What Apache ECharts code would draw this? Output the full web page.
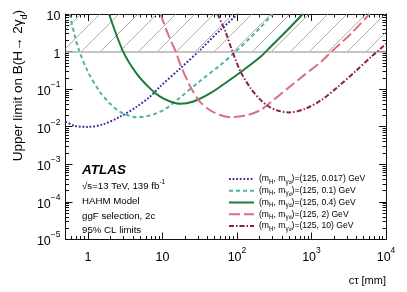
<!DOCTYPE html>
<html><head><meta charset="utf-8">
<script src="https://cdn.jsdelivr.net/npm/echarts@6/dist/echarts.min.js"></script>
<style>html,body{margin:0;padding:0;background:#fff}#c{width:407px;height:292px}</style>
</head><body><div id="c"></div>
<script>
// ---- data ----
const ct_017 = [0.5, 0.66, 1.0, 1.6, 2.7, 4.5, 6.8, 9.3, 17.4, 32, 60, 103];
const lim_017 = [0.0138, 0.0106, 0.0099, 0.0116, 0.0185, 0.034, 0.063, 0.117, 0.36, 1.1, 3.8, 10];

const ct_01 = [0.57, 0.66, 0.77, 1.0, 1.44, 1.96, 2.8, 4.5, 6.5, 8.4, 11, 15.6, 32, 60, 91, 153, 209, 300];
const lim_01 = [10, 2.8, 1.0, 0.29, 0.086, 0.042, 0.024, 0.018, 0.0195, 0.023, 0.03, 0.051, 0.165, 0.44, 0.91, 2.4, 4.5, 10];

const ct_04 = [1.92, 2.97, 4.5, 6.8, 9.3, 12.7, 17.4, 26, 44, 74, 124, 209, 285, 480, 764];
const lim_04 = [10, 1.0, 0.26, 0.105, 0.063, 0.047, 0.041, 0.047, 0.078, 0.158, 0.33, 0.74, 1.36, 3.8, 10];

const ct_2 = [9.4, 12.7, 15.1, 17.4, 23.7, 32, 49, 82, 138, 209, 285, 480, 804, 1350, 1860, 3450, 6000];
const lim_2 = [10, 2.1, 1.0, 0.45, 0.117, 0.046, 0.024, 0.018, 0.0205, 0.028, 0.045, 0.105, 0.24, 0.54, 1.0, 3.1, 10];

const ct_10 = [55, 70, 87, 112, 153, 209, 270, 350, 500, 804, 1350, 2280, 3830, 6400, 10000];
const lim_10 = [10, 3.4, 1.0, 0.29, 0.105, 0.051, 0.034, 0.027, 0.024, 0.0296, 0.051, 0.117, 0.29, 0.74, 1.6];

const seriesNames = ['0.017', '0.1', '0.4', '2', '10'];
const xTickValues = [1, 10, 100, 1000, 10000];
const yTickValues = [1e-5, 1e-4, 1e-3, 1e-2, 1e-1, 1, 10];

const xMin = 0.5, xMax = 1e4, yMin = 1e-5, yMax = 10;
const bandLow = 1, bandHigh = 10;

// ---- styling ----
const FONT = '"Liberation Sans", Arial, Helvetica, sans-serif';
const colors = ['#3b2f9f', '#4fb4a4', '#1f7a38', '#d8717f', '#8b1e52'];
const dashes = [[1.8, 1.8], [4, 3], 'solid', [11, 4], [5, 2, 1.5, 2]];

function zip(a, b) { return a.map((v, i) => [v, b[i]]); }
const dataSets = [zip(ct_017, lim_017), zip(ct_01, lim_01), zip(ct_04, lim_04), zip(ct_2, lim_2), zip(ct_10, lim_10)];

function expLabel(v) {
  const e = Math.log10(v);
  const r = Math.round(e);
  if (Math.abs(e - r) > 0.01) return '';
  if (r === 0) return '{b|1}';
  if (r === 1) return '{b|10}';
  return '{b|10}{sup|' + (r < 0 ? '\u2212' + (-r) : r) + '}';
}
const labelRich = {
  b: { fontSize: 12.5, fontFamily: FONT, color: '#000', lineHeight: 18, verticalAlign: 'bottom' },
  sup: { fontSize: 8.5, fontFamily: FONT, color: '#000', lineHeight: 10, verticalAlign: 'top' }
};

// minor tick values (2..9 x 10^k)
const yMinor = [], xMinor = [];
for (let k = -5; k <= 0; k++) for (let m = 2; m <= 9; m++) { const v = m * Math.pow(10, k); if (v > yMin && v < yMax) yMinor.push(v); }
for (let k = -1; k <= 3; k++) for (let m = 2; m <= 9; m++) { const v = m * Math.pow(10, k); if (v > xMin && v < xMax) xMinor.push(v); }

// hatch pattern
const pc = document.createElement('canvas');
const P = 19; pc.width = P; pc.height = P;
const g = pc.getContext('2d');
g.strokeStyle = '#9c9c9c'; g.lineWidth = 0.8;
g.beginPath();
g.moveTo(0, P); g.lineTo(P, 0);
g.moveTo(-2, 2); g.lineTo(2, -2);
g.moveTo(P - 2, P + 2); g.lineTo(P + 2, P - 2);
g.stroke();

const chart = echarts.init(document.getElementById('c'), null, { renderer: 'canvas' });

const GRID = { left: 65.5, right: 21, top: 14, bottom: 52.5, containLabel: false };

function mkAxis(gridIndex, isX, pos, opts) {
  return Object.assign({
    type: 'log', logBase: 10, gridIndex: gridIndex, position: pos,
    min: isX ? xMin : yMin, max: isX ? xMax : yMax, splitNumber: isX ? 5 : 6,
    axisLine: { show: true, lineStyle: { color: '#111', width: 1 } },
    axisTick: { show: true, inside: true, length: 7, lineStyle: { color: '#111', width: 1 } },
    axisLabel: { show: false },
    splitLine: { show: false }
  }, opts || {});
}
function minorAxis(gridIndex, isX, pos) {
  return mkAxis(gridIndex, isX, pos, {
    axisLine: { show: false },
    axisTick: { show: true, inside: true, length: 3.5, customValues: isX ? xMinor : yMinor, lineStyle: { color: '#111', width: 1 } }
  });
}

const series = [];
series.push({
  type: 'line', name: 'band', data: [], z: 1, silent: true,
  markArea: {
    silent: true,
    itemStyle: { color: { image: pc, repeat: 'repeat' } },
    data: [[{ coord: [xMin, bandLow] }, { coord: [xMax, bandHigh] }]]
  },
  markLine: {
    silent: true, symbol: ['none', 'none'], label: { show: false },
    lineStyle: { color: '#b0b0b0', width: 1.5, type: 'solid' },
    data: [{ yAxis: bandLow }]
  }
});
seriesNames.forEach((n, i) => {
  series.push({
    type: 'line', name: n, data: dataSets[i], showSymbol: false, symbol: 'none',
    smooth: 0.3, z: 3 + i, clip: true,
    lineStyle: { color: colors[i], width: 2, type: dashes[i] },
    itemStyle: { color: colors[i] }
  });
});

const legendRich = {
  s: { fontSize: 6.3, fontFamily: FONT, color: '#000', verticalAlign: 'bottom', lineHeight: 11.8 },
  ss: { fontSize: 5.2, fontFamily: FONT, color: '#000', verticalAlign: 'bottom', lineHeight: 11.8 }
};

const option = {
  animation: false,
  backgroundColor: '#fff',
  grid: [GRID, Object.assign({}, GRID)],
  xAxis: [
    mkAxis(0, true, 'bottom', { axisLabel: { show: true, margin: 7, formatter: expLabel, rich: labelRich, showMinLabel: false } }),
    mkAxis(0, true, 'top'),
    minorAxis(1, true, 'bottom'),
    minorAxis(1, true, 'top')
  ],
  yAxis: [
    mkAxis(0, false, 'left', { axisLabel: { show: true, margin: 5, formatter: expLabel, rich: labelRich } }),
    mkAxis(0, false, 'right'),
    minorAxis(1, false, 'left'),
    minorAxis(1, false, 'right')
  ],
  legend: {
    orient: 'vertical', left: 228, top: 173,
    data: seriesNames,
    itemWidth: 25, itemHeight: 10, itemGap: 0,
    padding: 0,
    selectedMode: false,
    itemStyle: { opacity: 0 },
    formatter: function (n) { return '(m{s|H}, m{s|\u03b3}{ss|d})=(125, ' + n + ') GeV'; },
    textStyle: { fontSize: 8.6, fontFamily: FONT, color: '#000', lineHeight: 11.8, rich: legendRich }
  },
  graphic: [
    { type: 'text', x: 18, y: 10, rotation: Math.PI / 2,
      style: { text: 'Upper limit on B(H\u2192 2\u03b3{sub|d})', fill: '#000', font: '13.5px ' + FONT,
        align: 'right', verticalAlign: 'middle',
        rich: { sub: { fontSize: 9, fontFamily: FONT, verticalAlign: 'bottom', lineHeight: 22 } } } },
    { type: 'text', x: 386, y: 281,
      style: { text: 'c\u03c4 [mm]', fill: '#000', font: '11px ' + FONT, align: 'right', verticalAlign: 'middle' } },
    { type: 'text', x: 82, y: 170.5,
      style: { text: 'ATLAS', fill: '#000', font: 'italic bold 13.5px ' + FONT, align: 'left', verticalAlign: 'middle' } },
    { type: 'text', x: 82, y: 186,
      style: { text: '\u221as=13 TeV, 139 fb{sup|-1}', fill: '#000', font: '9.7px ' + FONT, align: 'left', verticalAlign: 'middle',
        rich: { sup: { fontSize: 6.5, fontFamily: FONT, verticalAlign: 'top', lineHeight: 14 } } } },
    { type: 'text', x: 82, y: 201.5,
      style: { text: 'HAHM Model', fill: '#000', font: '9.7px ' + FONT, align: 'left', verticalAlign: 'middle' } },
    { type: 'text', x: 82, y: 216.5,
      style: { text: 'ggF selection, 2c', fill: '#000', font: '9.7px ' + FONT, align: 'left', verticalAlign: 'middle' } },
    { type: 'text', x: 82, y: 230.5,
      style: { text: '95% CL limits', fill: '#000', font: '9.7px ' + FONT, align: 'left', verticalAlign: 'middle' } }
  ],
  series: series
};
chart.setOption(option);
</script>
</body></html>
